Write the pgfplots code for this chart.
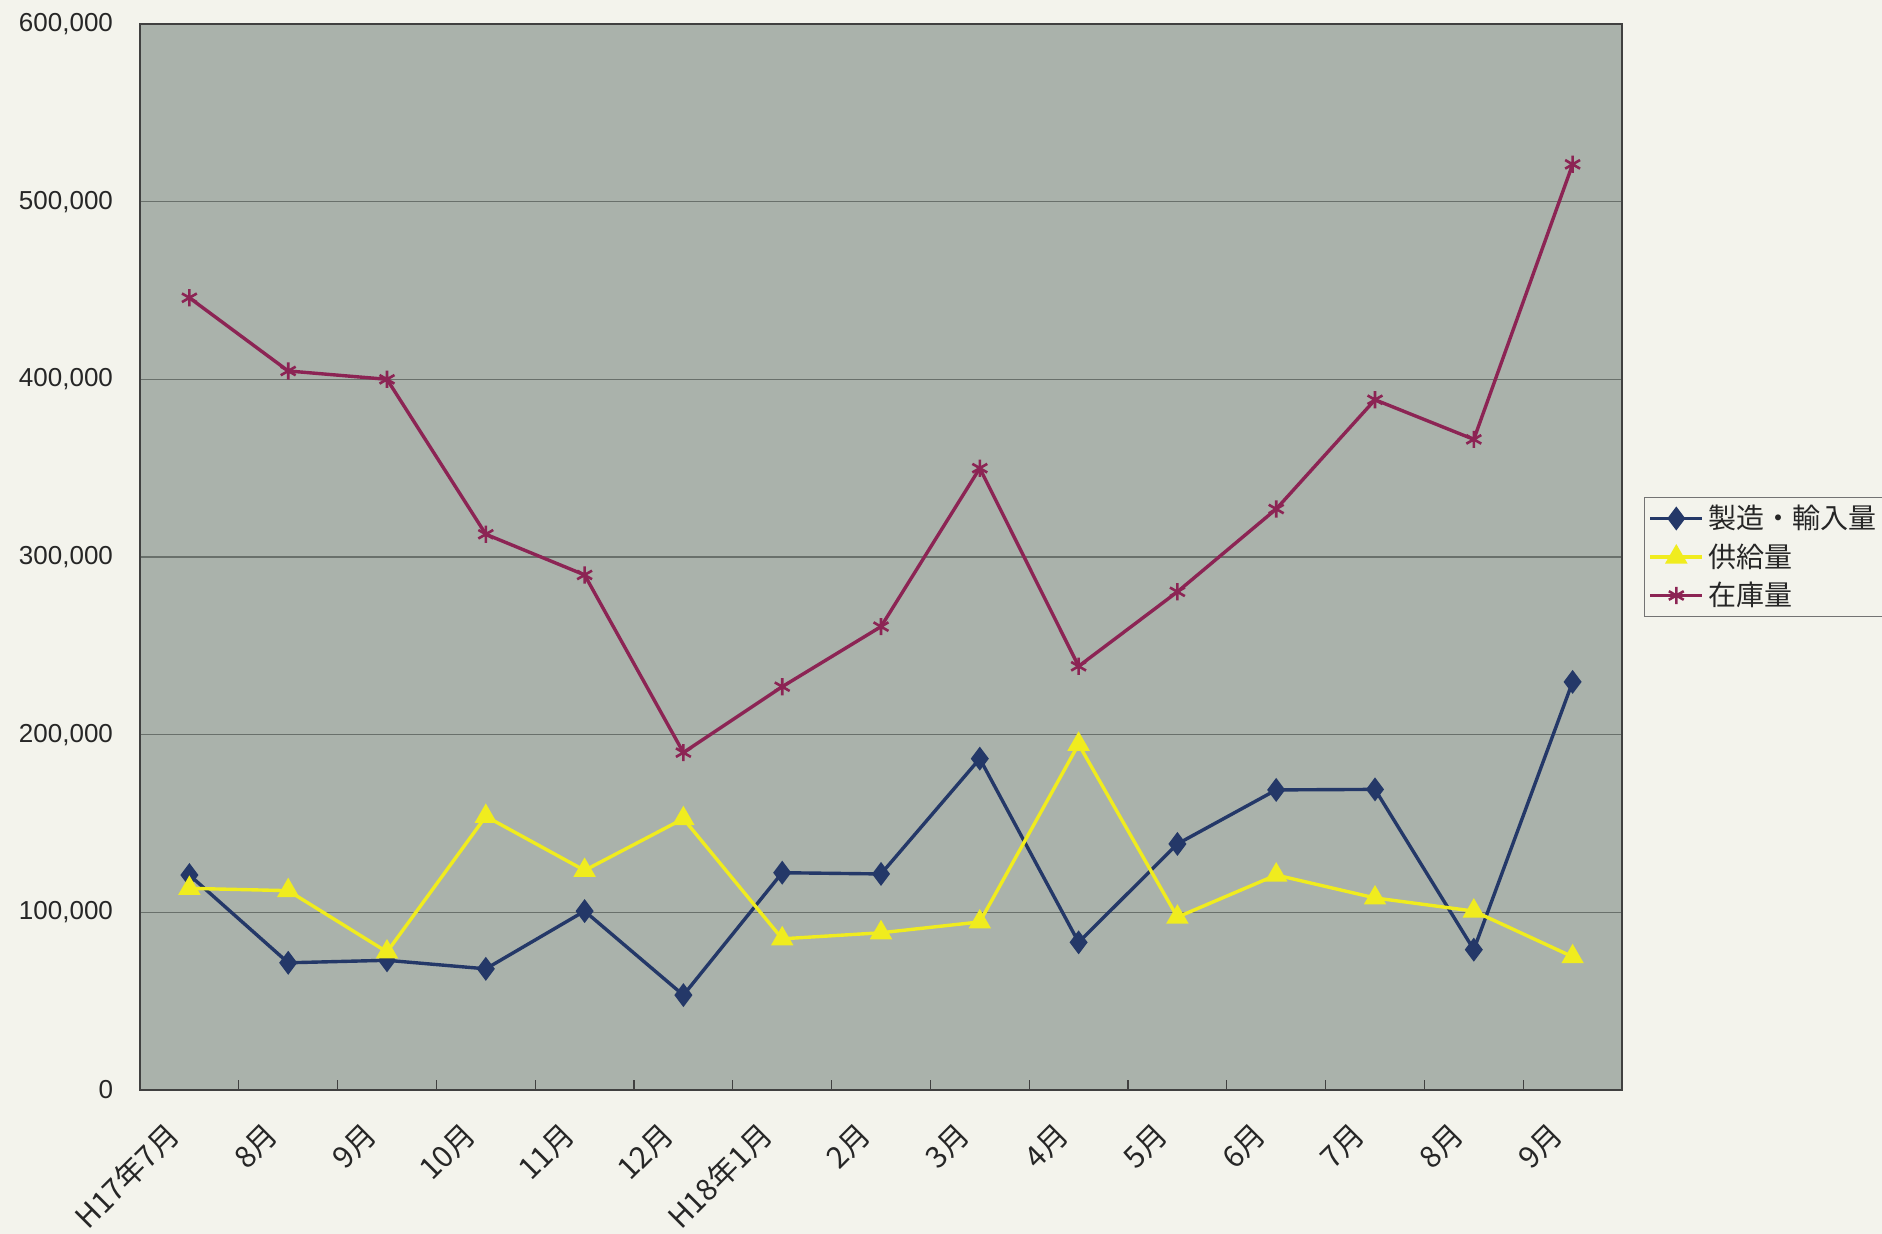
\documentclass[border=0pt]{standalone}
\usepackage{pgfplots}
\pgfplotsset{compat=1.18}
\usepackage{fontspec}
\setmainfont{Liberation Sans}
\newfontfamily\jp{Noto Sans CJK JP}

\definecolor{pagebg}{RGB}{243,243,236}
\definecolor{plotbg}{RGB}{170,178,171}
\definecolor{gridc}{RGB}{105,112,107}
\definecolor{seriesA}{RGB}{36,56,104}
\definecolor{seriesB}{RGB}{240,236,30}
\definecolor{seriesC}{RGB}{140,36,84}

\begin{document}
\begin{tikzpicture}
\fill[pagebg] (0,0) rectangle (941bp,617bp);
\path[use as bounding box] (0,0) rectangle (941bp,617bp);
\begin{axis}[
    at={(70bp,72bp)}, anchor=south west,
    width=741bp, height=533bp, scale only axis,
    axis background/.style={fill=plotbg},
    axis line style={draw=black!75, line width=0.6bp},
    xmin=-0.5, xmax=14.5,
    ymin=0, ymax=600000,
    xtick={0,...,14},
    xticklabels={H17年7月,8月,9月,10月,11月,12月,H18年1月,2月,3月,4月,5月,6月,7月,8月,9月},
    minor xtick={0.5,1.5,...,13.5},
    ytick={0,100000,...,600000},
    major tick length=0pt,
    minor tick length=5bp,
    tick align=inside,
    xtick pos=bottom, ytick pos=left,
    minor tick style={draw=black!75, line width=0.6bp},
    ymajorgrids,
    grid style={draw=gridc, line width=0.6bp},
    scaled y ticks=false,
    yticklabel style={/pgf/number format/fixed, /pgf/number format/1000 sep={,},
        /pgf/number format/assume math mode=true,
        font=\fontsize{13bp}{15bp}\selectfont, text=black!85, xshift=-10bp},
    xticklabel style={font=\jp\fontsize{15bp}{17bp}\selectfont, text=black!85,
        rotate=45, anchor=east, xshift=-16bp, yshift=-8.5bp},
    legend style={at={(1,0.5)}, anchor=west, xshift=11bp,
        fill=pagebg, draw=black!55, line width=0.6bp,
        font=\jp\fontsize{14bp}{16bp}\selectfont, text=black!85,
        row sep=2bp, inner sep=2bp},
    legend cell align=left,
    legend image code/.code={\draw[mark repeat=2,mark phase=2] plot coordinates {(0bp,0bp) (13bp,0bp) (26bp,0bp)};},
]
\addplot[color=seriesA, line width=1.7bp, mark=diamond*, mark size=4.6bp, mark options={solid}] coordinates {
 (0,121000) (1,71600) (2,73000) (3,68200) (4,100700) (5,53400) (6,122300) (7,121600)
 (8,186500) (9,83100) (10,138500) (11,168900) (12,169200) (13,79000) (14,229700)};
\addlegendentry{製造・輸入量}
\addplot[color=seriesB, line width=1.7bp, mark=triangle*, mark size=4.8bp, mark options={solid}] coordinates {
 (0,113500) (1,112200) (2,77700) (3,154000) (4,123600) (5,152700) (6,85100) (7,88500)
 (8,94600) (9,194600) (10,97300) (11,121000) (12,108100) (13,100700) (14,75000)};
\addlegendentry{供給量}
\addplot[color=seriesC, line width=1.7bp, mark=asterisk, mark size=4.3bp, mark options={solid, line width=1.3bp}] coordinates {
 (0,445900) (1,404700) (2,400000) (3,312800) (4,289900) (5,189900) (6,227000) (7,260800)
 (8,350000) (9,238500) (10,280400) (11,327000) (12,388500) (13,366200) (14,521000)};
\addlegendentry{在庫量}
\end{axis}
\end{tikzpicture}
\end{document}
